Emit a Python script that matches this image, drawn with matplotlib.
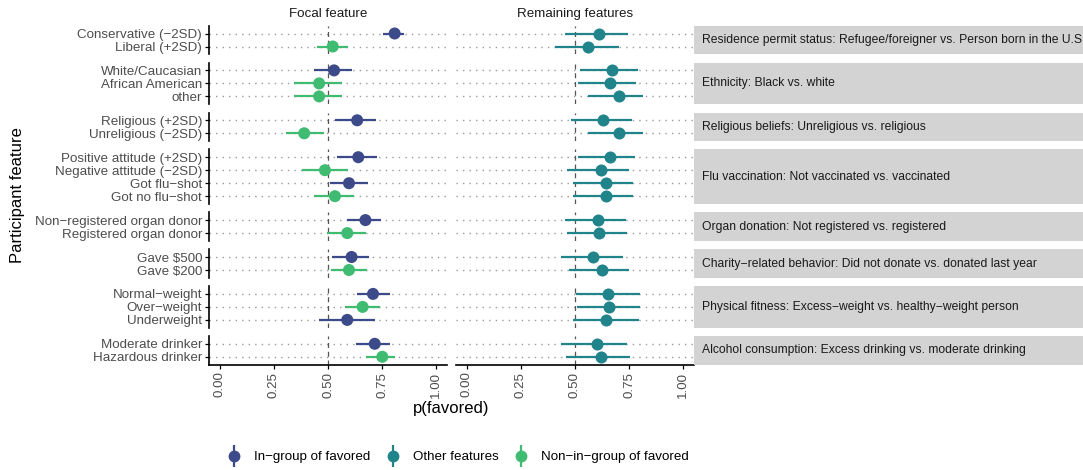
import matplotlib
matplotlib.use("Agg")
import matplotlib.pyplot as plt
from matplotlib.lines import Line2D
from matplotlib.legend_handler import HandlerTuple
import numpy as np

plt.rcParams['font.family'] = ['Liberation Sans', 'DejaVu Sans']

# facet strips (one per attribute) and the levels shown in each
strips = [
    "Residence permit status: Refugee/foreigner vs. Person born in the U.S",
    "Ethnicity: Black vs. white",
    "Religious beliefs: Unreligious vs. religious",
    "Flu vaccination: Not vaccinated vs. vaccinated",
    "Organ donation: Not registered vs. registered",
    "Charity\u2212related behavior: Did not donate vs. donated last year",
    "Physical fitness: Excess\u2212weight vs. healthy\u2212weight person",
    "Alcohol consumption: Excess drinking vs. moderate drinking",
]
groups = [
    ["Conservative (\u22122SD)", "Liberal (+2SD)"],
    ["White/Caucasian", "African American", "other"],
    ["Religious (+2SD)", "Unreligious (\u22122SD)"],
    ["Positive attitude (+2SD)", "Negative attitude (\u22122SD)", "Got flu\u2212shot", "Got no flu\u2212shot"],
    ["Non\u2212registered organ donor", "Registered organ donor"],
    ["Gave $500", "Gave $200"],
    ["Normal\u2212weight", "Over\u2212weight", "Underweight"],
    ["Moderate drinker", "Hazardous drinker"],
]

# focal feature estimates (1 = in-group of favored, 0 = non-in-group)
in_group = [1, 0, 1, 0, 0, 1, 0, 1, 0, 1, 0, 1, 0, 1, 0, 1, 0, 1, 1, 0]
focal_p = [0.808, 0.522, 0.528, 0.459, 0.459, 0.635, 0.390, 0.640, 0.486, 0.597,
           0.532, 0.673, 0.589, 0.609, 0.597, 0.708, 0.660, 0.589, 0.716, 0.751]
focal_lo = [0.754, 0.451, 0.437, 0.345, 0.345, 0.532, 0.305, 0.543, 0.379, 0.509,
            0.437, 0.589, 0.497, 0.517, 0.512, 0.636, 0.578, 0.459, 0.629, 0.675]
focal_hi = [0.851, 0.593, 0.609, 0.566, 0.566, 0.724, 0.483, 0.727, 0.591, 0.683,
            0.620, 0.747, 0.675, 0.690, 0.678, 0.785, 0.739, 0.719, 0.788, 0.808]

# remaining features estimates
other_p = [0.611, 0.561, 0.673, 0.660, 0.702, 0.629, 0.702, 0.660, 0.620, 0.641,
           0.641, 0.606, 0.612, 0.585, 0.623, 0.654, 0.656, 0.641, 0.602, 0.619]
other_lo = [0.456, 0.406, 0.524, 0.512, 0.561, 0.482, 0.558, 0.512, 0.464, 0.492,
            0.492, 0.456, 0.461, 0.433, 0.474, 0.506, 0.509, 0.489, 0.433, 0.459]
other_hi = [0.743, 0.705, 0.793, 0.780, 0.812, 0.763, 0.812, 0.778, 0.751, 0.766,
            0.766, 0.737, 0.742, 0.724, 0.751, 0.800, 0.802, 0.796, 0.742, 0.756]

legend_labels = ["In\u2212group of favored", "Other features", "Non\u2212in\u2212group of favored"]
col_in, col_other, col_out = "#3D4A89", "#21848B", "#40BC72"
xticks = [0, 0.25, 0.5, 0.75, 1.0]

W, H = 1083, 470
fig = plt.figure(figsize=(W / 100, H / 100), dpi=100)

unit = 13.0   # px per row
gap = 8.3     # px between facet rows
top = 25.7
cols = [(209, 238), (456, 238)]

k = 0
y_top = top
for gi, (labels, strip) in enumerate(zip(groups, strips)):
    n = len(labels)
    h = (n + 0.2) * unit
    ybot = H - (y_top + h)
    ys = np.arange(n)
    sl = slice(k, k + n)
    last = gi == len(groups) - 1
    for ci, (x0, w) in enumerate(cols):
        ax = fig.add_axes([x0 / W, ybot / H, w / W, h / H])
        ax.set_facecolor("none")
        ax.set_xlim(-0.05, 1.05)
        ax.set_ylim(n - 0.4, -0.6)
        for yy in ys:
            ax.axhline(yy, color="#9A9A9A", lw=1.0, ls=(0, (1, 3.7)), zorder=0)
        ax.axvline(0.5, color="#555555", lw=0.9, ls=(0, (4, 3)), zorder=1)
        if ci == 0:
            cs = [col_in if g else col_out for g in in_group[sl]]
            ax.hlines(ys, focal_lo[sl], focal_hi[sl], colors=cs, lw=1.6, zorder=2)
            ax.scatter(focal_p[sl], ys, s=75, c=cs, zorder=3, linewidths=0)
        else:
            ax.hlines(ys, other_lo[sl], other_hi[sl], colors=col_other, lw=1.6, zorder=2)
            ax.scatter(other_p[sl], ys, s=75, c=col_other, zorder=3, linewidths=0)
        for s in ["top", "right"]:
            ax.spines[s].set_visible(False)
        ax.spines["left"].set_visible(ci == 0)
        ax.spines["bottom"].set_visible(last)
        ax.spines["left"].set_linewidth(1.2)
        ax.spines["bottom"].set_linewidth(1.2)
        ax.tick_params(direction="out", length=3, width=0.9, color="black",
                       labelcolor="#4D4D4D", labelsize=9.6, pad=2)
        if ci == 0:
            ax.set_yticks(ys)
            ax.set_yticklabels(labels)
        else:
            ax.set_yticks([])
        if last:
            ax.set_xticks(xticks)
            ax.set_xticklabels(["%.2f" % t for t in xticks], rotation=90)
        else:
            ax.set_xticks([])
    # gray strip on the right
    sax = fig.add_axes([694 / W, ybot / H, 500 / W, h / H])
    sax.set_facecolor("#D3D3D3")
    sax.set_xticks([])
    sax.set_yticks([])
    for s in sax.spines.values():
        s.set_visible(False)
    sax.text(8 / 500, 0.5, strip, transform=sax.transAxes, ha="left", va="center",
             fontsize=8.7, color="#1A1A1A")
    k += n
    y_top += h + gap

fig.text(328 / W, 1 - 14 / H, "Focal feature", ha="center", va="center", fontsize=9.6, color="#1A1A1A")
fig.text(575.5 / W, 1 - 14 / H, "Remaining features", ha="center", va="center", fontsize=9.6, color="#1A1A1A")
fig.text(451.5 / W, 1 - 408 / H, "p(favored)", ha="center", va="center", fontsize=12)
fig.text(18 / W, 1 - 195 / H, "Participant feature", ha="center", va="center", rotation=90, fontsize=12)

handles = []
for c in [col_in, col_other, col_out]:
    handles.append((Line2D([], [], marker="|", ms=16, mew=1.6, color=c, ls=""),
                    Line2D([], [], marker="o", ms=7.5, color=c, ls="")))
fig.legend(handles, legend_labels, loc="center", bbox_to_anchor=(458 / W, 1 - 457 / H),
           ncol=3, frameon=False, fontsize=9.6, handlelength=1.0, handletextpad=1.0,
           columnspacing=1.2, handler_map={tuple: HandlerTuple(ndivide=1)})

fig.savefig("out.png", dpi=100)
